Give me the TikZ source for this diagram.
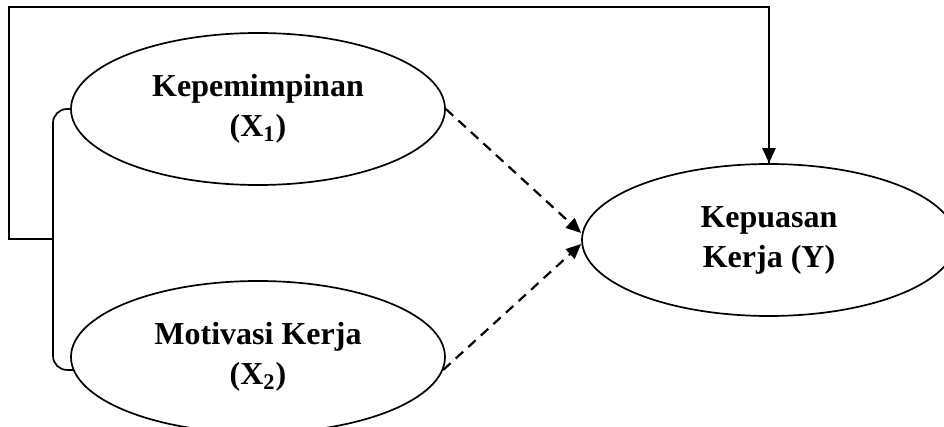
\documentclass[tikz,border=0pt]{standalone}
\usepackage{fontspec}
\setmainfont{Liberation Serif}
\usetikzlibrary{arrows.meta,shapes.geometric}
\begin{document}
\begin{tikzpicture}[x=0.5pt,y=-0.5pt,
  var/.style={draw,ellipse,line width=0.85pt,minimum width=187pt,minimum height=76pt,inner sep=0pt,align=center,
    font=\fontsize{16}{20}\selectfont\bfseries},
  conn/.style={line width=0.85pt},
  dasharrow/.style={line width=1.1pt,dash pattern=on 5pt off 3.5pt,-{Triangle[length=7.5pt,width=6.5pt]}},
  solidarrow/.style={line width=1.1pt,-{Triangle[length=7.5pt,width=6.5pt]}}]
\useasboundingbox (0,0) rectangle (944,427);
\clip (0,0) rectangle (944,427);
\node[var] (x1) at (258,109) {Kepemimpinan\\(X\textsubscript{1})};
\node[var] (x2) at (258,357) {Motivasi Kerja\\(X\textsubscript{2})};
\node[var] (y) at (769,240) {Kepuasan\\Kerja (Y)};
\coordinate (j) at (53,239);
\coordinate (c1) at (9,239);
\coordinate (c2) at (9,7);
\draw[conn,rounded corners=7pt] (x1.west) -| (j) |- (x2.184);
\draw[conn] (j) -- (c1) -- (c2) -| (y.north);
\draw[solidarrow] (769,122) -- (y.north);
\draw[dasharrow] (x1.east) -- ([yshift=3.5pt]y.west);
\draw[dasharrow] (x2.-4) -- ([yshift=-2pt]y.west);
\end{tikzpicture}
\end{document}
